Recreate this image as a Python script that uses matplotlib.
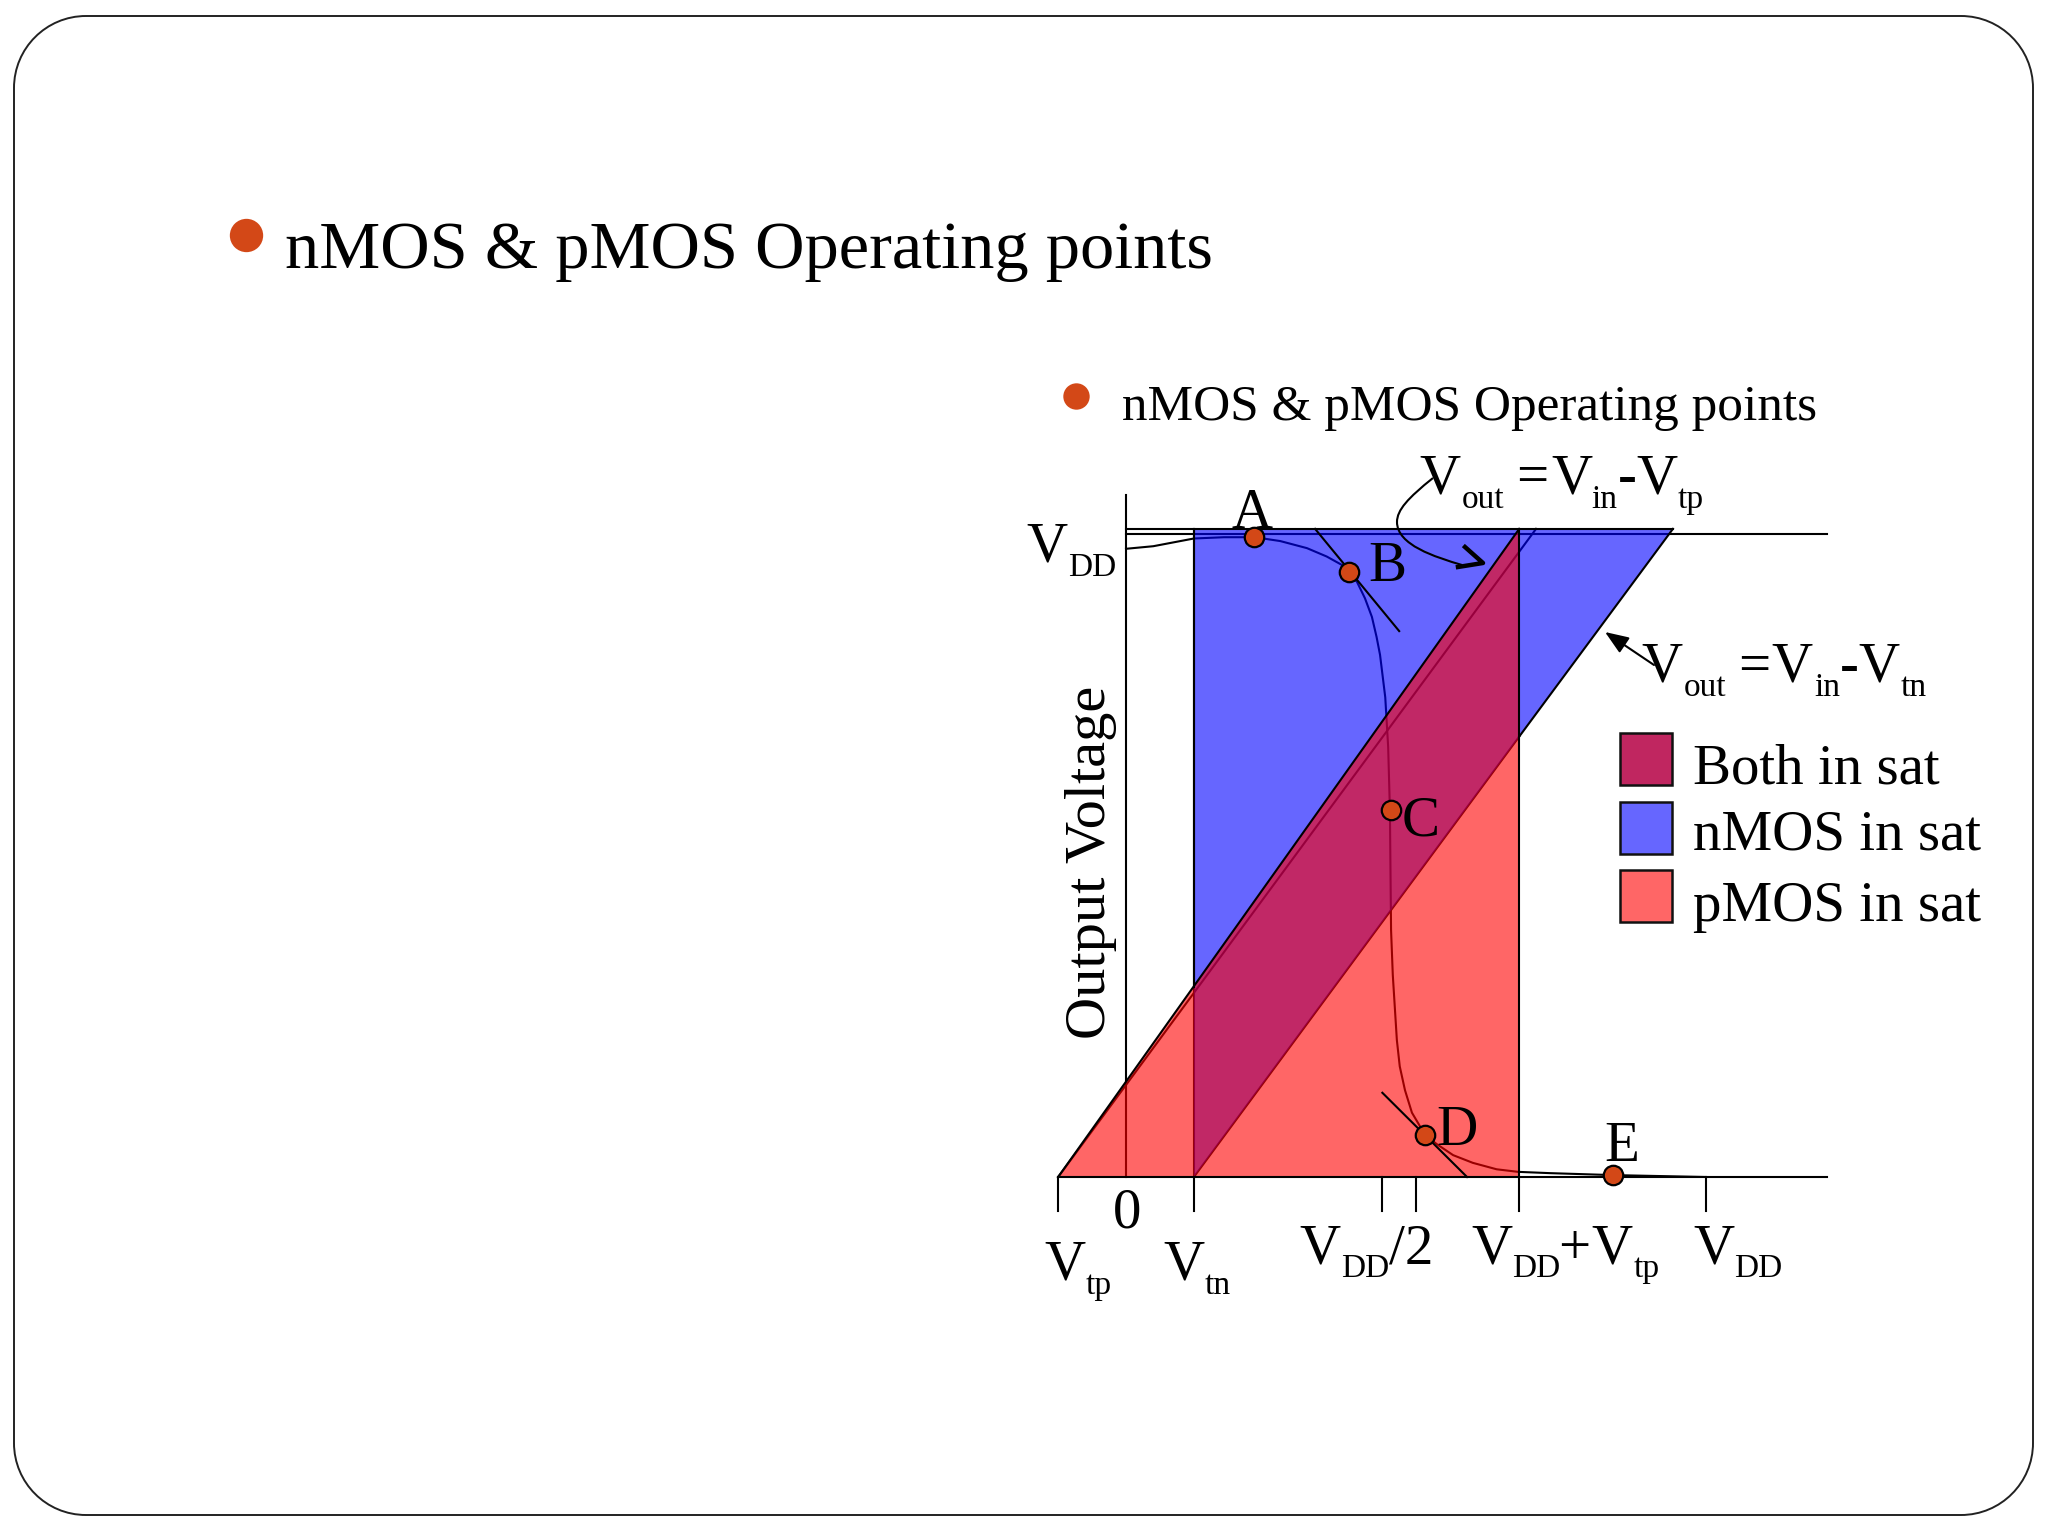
#!/usr/bin/env python3
"""nMOS & pMOS operating points slide: inverter transfer curve and saturation regions."""
import matplotlib
matplotlib.use("Agg")
import matplotlib.pyplot as plt
from matplotlib.patches import PathPatch, Polygon, Rectangle
from matplotlib.path import Path

W, H = 2048, 1536
BULLET = "#D34817"
BLUE, RED, BOTH = "#6666FF", "#FF6666", "#C02660"

# voltages normalised to VDD
VIN = [0, .047, .117, .169, .222, .266, .312, .346, .372, .385, .398, .412, .424, .432,
       .438, .447, .452, .455, .457, .460, .467, .472, .481, .493, .516, .536, .564,
       .598, .639, .676, .731, .838, 1.0]
VOUT = [.977, .981, .993, .995, .995, .989, .978, .965, .952, .941, .926, .900, .871, .840,
        .812, .746, .669, .571, .384, .314, .213, .172, .135, .100, .065, .051, .034,
        .022, .012, .008, .006, .003, 0]

POINT_NAMES = ["A", "B", "C", "D", "E"]
POINT_VIN = [.221, .385, .457, .516, .839]
POINT_VOUT = [.995, .941, .571, .065, .003]

VTP, VTN = -.117, .117
VDD_VTP = .678
TOP = 1.008
N_END = .943
P_END = .707
XTICKS = [VTP, VTN, .441, .5, VDD_VTP, 1.0]

LEGEND_NAMES = ["Both in sat", "nMOS in sat", "pMOS in sat"]
LEGEND_COLORS = [BOTH, BLUE, RED]

plt.rcParams["font.family"] = ["Liberation Serif", "DejaVu Serif"]

fig = plt.figure(figsize=(W / 100, H / 100), dpi=100, facecolor="white")

# volts axes, lined up with the slide so that 0 V sits at the drawn origin
ax = fig.add_axes([0, 0, 1, 1], zorder=1)
ax.set_xlim(-1126 / 580, (W - 1126) / 580)
ax.set_ylim((1177 - H) / 643, 1177 / 643)
ax.axis("off")

# slide overlay in pixels for the frame and the lettering
bg = fig.add_axes([0, 0, 1, 1], zorder=2)
bg.set_xlim(0, W)
bg.set_ylim(H, 0)
bg.axis("off")

LW = 1.5

# lines that show through the coloured regions
ax.plot(VIN, VOUT, color="black", lw=LW, zorder=2)
ax.plot([VTP, P_END], [0, TOP], color="black", lw=LW, zorder=2)
ax.plot([0, 0], [0, 1.061], color="black", lw=LW, zorder=2)
ax.plot([VTN, VTN], [0, TOP], color="black", lw=LW, zorder=2)
ax.plot([VTN, VDD_VTP], [0, .685], color="black", lw=LW, zorder=2)
ax.plot([0, 1.209], [1, 1], color="black", lw=LW, zorder=2)

ax.add_patch(Polygon([(VTN, TOP), (N_END, TOP), (VTN, 0)], closed=True,
                     facecolor="blue", alpha=.6, lw=0, zorder=3))
ax.add_patch(Polygon([(VTP, 0), (VDD_VTP, TOP), (VDD_VTP, 0)], closed=True,
                     facecolor="red", alpha=.6, lw=0, zorder=4))

# lines on top of the fills
ax.plot([VTN, VTN], [.295, TOP], color="black", lw=LW, zorder=5)
ax.plot([VDD_VTP, VDD_VTP], [0, TOP], color="black", lw=LW, zorder=5)
ax.plot([VTP, VDD_VTP], [0, TOP], color="black", lw=LW, zorder=5)
ax.plot([VDD_VTP, N_END], [.685, TOP], color="black", lw=LW, zorder=5)
ax.plot([0, N_END], [TOP, TOP], color="black", lw=LW, zorder=5)
ax.plot([VTP, 1.209], [0, 0], color="black", lw=LW, zorder=5)
ax.plot([.326, .471], [TOP, .849], color="black", lw=LW, zorder=5)
ax.plot([.442, .588], [.131, 0], color="black", lw=LW, zorder=5)
for t in XTICKS:
    ax.plot([t, t], [0, -.053], color="black", lw=LW, zorder=5)

ax.plot(POINT_VIN, POINT_VOUT, "o", ms=14, mfc=BULLET, mec="black", mew=1.6, zorder=6)

# slide frame, circular corners
L, T, R, B, RAD = 14, 16, 2033, 1515, 72
K = RAD * .4477
frame = [(L + RAD, T), (R - RAD, T),
         (R - K, T), (R, T + K), (R, T + RAD), (R, B - RAD),
         (R, B - K), (R - K, B), (R - RAD, B), (L + RAD, B),
         (L + K, B), (L, B - K), (L, B - RAD), (L, T + RAD),
         (L, T + K), (L + K, T), (L + RAD, T)]
codes = [Path.MOVETO, Path.LINETO,
         Path.CURVE4, Path.CURVE4, Path.CURVE4, Path.LINETO,
         Path.CURVE4, Path.CURVE4, Path.CURVE4, Path.LINETO,
         Path.CURVE4, Path.CURVE4, Path.CURVE4, Path.LINETO,
         Path.CURVE4, Path.CURVE4, Path.CURVE4]
bg.add_patch(PathPatch(Path(frame, codes), fill=False, ec="#222222", lw=1.4))

# bullets
bg.plot([246], [235], "o", color=BULLET, ms=24, mew=0)
bg.plot([1076], [396], "o", color=BULLET, ms=19, mew=0)


def put(s, x, y, size=41, **kw):
    bg.text(x, y, s, fontsize=size, ha=kw.pop("ha", "left"), va="baseline",
            color="black", **kw)


SUB = 24
put("nMOS & pMOS Operating points", 285, 268, size=49.3)
put("nMOS & pMOS Operating points", 1122, 420, size=36.9)
put("Output Voltage", 1105, 862, size=42, ha="center", rotation=90, rotation_mode="anchor")

# Vout = Vin - Vtp
put("V", 1419, 493); put("out", 1462, 508, SUB); put("=", 1516, 493); put("V", 1551, 493)
put("in", 1591, 508, SUB); put("-", 1618, 493, weight="bold"); put("V", 1636, 493)
put("tp", 1678, 508, SUB)
# Vout = Vin - Vtn
put("V", 1641, 682); put("out", 1684, 696, SUB); put("=", 1738, 682); put("V", 1771, 682)
put("in", 1814, 696, SUB); put("-", 1840, 682, weight="bold"); put("V", 1858, 682)
put("tn", 1901, 696, SUB)

# axis labels
put("V", 1026, 562); put("DD", 1068, 576, SUB)
put("0", 1113, 1227)
put("V", 1044, 1280); put("tp", 1086, 1294, SUB)
put("V", 1163, 1280); put("tn", 1205, 1294, SUB)
put("V", 1299, 1264); put("DD", 1341, 1277, SUB); put("/2", 1389, 1264)
put("V", 1471, 1264); put("DD", 1512, 1277, SUB); put("+", 1558, 1264); put("V", 1591, 1264)
put("tp", 1634, 1277, SUB)
put("V", 1693, 1264); put("DD", 1734, 1277, SUB)

# point names
for name, x, y in zip(POINT_NAMES, [1231, 1368, 1402, 1436, 1604], [528, 581, 836, 1145, 1161]):
    put(name, x, y)

# callouts
bg.add_patch(PathPatch(Path([(1433, 478), (1408, 498), (1397, 510), (1397, 522),
                             (1397, 545), (1435, 557), (1462, 565)],
                            [Path.MOVETO] + [Path.CURVE4] * 6),
                       fill=False, ec="black", lw=LW))
bg.plot([1465, 1483, 1458], [547, 563, 567], color="black", lw=3.2)
bg.annotate("", xy=(1605, 632), xytext=(1654, 665),
            arrowprops=dict(arrowstyle="-|>,head_length=0.9,head_width=0.35", color="black",
                            lw=LW, shrinkA=0, shrinkB=0, mutation_scale=16))

# legend
for name, color, top, base in zip(LEGEND_NAMES, LEGEND_COLORS, [733, 802, 870], [784, 849, 921]):
    bg.add_patch(Rectangle((1620, top), 52, 52, facecolor=color, edgecolor="#111111", lw=1.8))
    put(name, 1693, base)

fig.savefig("out.png", dpi=100)
